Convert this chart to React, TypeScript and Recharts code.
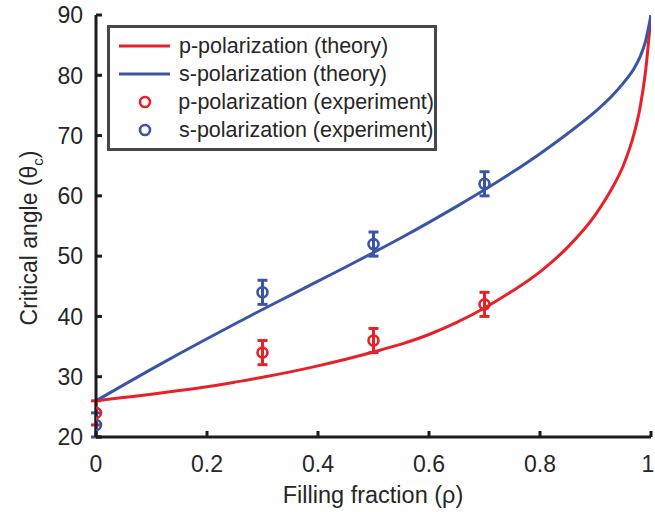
import {
  ComposedChart,
  ErrorBar,
  Legend,
  Line,
  Scatter,
  XAxis,
  YAxis,
} from 'recharts';

// Theory curves
const THEORY_X = [0, 0.05, 0.1, 0.15, 0.2, 0.25, 0.3, 0.35, 0.4, 0.45, 0.5, 0.55, 0.6, 0.65, 0.7, 0.75, 0.8, 0.85, 0.9, 0.93, 0.95, 0.97, 0.98, 0.99, 1];
const P_THEORY = [26, 26.55, 27.1, 27.7, 28.35, 29.1, 29.9, 30.8, 31.8, 32.9, 34.1, 35.4, 37.0, 39.0, 41.4, 44.2, 47.4, 51.5, 56.9, 61.3, 65.0, 70.5, 74.5, 80.5, 90];
const S_THEORY = [26, 28.65, 31.25, 33.8, 36.3, 38.75, 41.15, 43.5, 45.85, 48.2, 50.6, 53.05, 55.6, 58.25, 61.0, 63.9, 67.0, 70.35, 74.0, 76.6, 78.7, 81.2, 83.0, 85.6, 90];

// Experiment points
const EXP_X = [0, 0.3, 0.5, 0.7];
const P_EXP = [24, 34, 36, 42];
const S_EXP = [22, 44, 52, 62];
const EXP_ERR = [2, 2, 2, 2];

const X_TICKS = [0, 0.2, 0.4, 0.6, 0.8, 1];
const Y_TICKS = [20, 30, 40, 50, 60, 70, 80, 90];

const RED = '#e62129';
const BLUE = '#3a55a5';
const FRAME = '#1c1c1c';
const TEXT = '#262626';
const FONT = 'Arial, "Liberation Sans", sans-serif';

const pTheory = THEORY_X.map((x, i) => ({ x, y: P_THEORY[i] }));
const sTheory = THEORY_X.map((x, i) => ({ x, y: S_THEORY[i] }));
const pExp = EXP_X.map((x, i) => ({ x, y: P_EXP[i], err: EXP_ERR[i] }));
const sExp = EXP_X.map((x, i) => ({ x, y: S_EXP[i], err: EXP_ERR[i] }));

const LEGEND_ITEMS = [
  { label: 'p-polarization (theory)', color: RED, kind: 'line' },
  { label: 's-polarization (theory)', color: BLUE, kind: 'line' },
  { label: 'p-polarization (experiment)', color: RED, kind: 'circle' },
  { label: 's-polarization (experiment)', color: BLUE, kind: 'circle' },
];

const TICK_LEN = 6;

// Ticks point inward, labels sit outside the frame.
const BottomTick = ({ x, y, payload }: any) => (
  <g>
    <line x1={x} x2={x} y1={y} y2={y - TICK_LEN} stroke={FRAME} strokeWidth={3} />
    <text
      x={payload.value === 1 ? x - 3 : x}
      y={y + 35}
      textAnchor="middle"
      fill={TEXT}
      fontSize={23}
      fontFamily={FONT}
    >
      {String(payload.value)}
    </text>
  </g>
);

const TopTick = ({ x, y }: any) => (
  <line x1={x} x2={x} y1={y} y2={y + TICK_LEN} stroke={FRAME} strokeWidth={3} />
);

const LeftTick = ({ x, y, payload }: any) => (
  <g>
    <line x1={x} x2={x + TICK_LEN} y1={y} y2={y} stroke={FRAME} strokeWidth={3} />
    <text x={x - 13} y={y} dy="0.36em" textAnchor="end" fill={TEXT} fontSize={23} fontFamily={FONT}>
      {payload.value}
    </text>
  </g>
);

const RightTick = ({ x, y }: any) => (
  <line x1={x} x2={x - TICK_LEN} y1={y} y2={y} stroke={FRAME} strokeWidth={3} />
);

const YLabel = () => (
  <text
    transform="rotate(-90, 37, 238)"
    x={37}
    y={238}
    textAnchor="middle"
    fill={TEXT}
    fontSize={23}
    fontFamily={FONT}
  >
    Critical angle (θ
    <tspan fontSize={15} dy={6}>c</tspan>
    <tspan dy={-6}>)</tspan>
  </text>
);

const XLabel = () => (
  <text x={373} y={503} textAnchor="middle" fill={TEXT} fontSize={23.5} fontFamily={FONT}>
    Filling fraction (ρ)
  </text>
);

const OpenCircle = (color: string) => (props: any) => (
  <circle cx={props.cx} cy={props.cy} r={5} fill="none" stroke={color} strokeWidth={2.6} />
);

const LegendBox = () => (
  <div
    style={{
      border: '3px solid #474747',
      background: '#fff',
      padding: '4px 0 4px 0',
      fontFamily: FONT,
      fontSize: 21.5,
      color: TEXT,
      width: 324,
      boxSizing: 'content-box',
    }}
  >
    {LEGEND_ITEMS.map((item) => (
      <div key={item.label} style={{ display: 'flex', alignItems: 'center', height: 28 }}>
        <svg width={66} height={28}>
          {item.kind === 'line' ? (
            <line x1={9} x2={60} y1={14} y2={14} stroke={item.color} strokeWidth={3} />
          ) : (
            <circle cx={35} cy={14} r={5} fill="none" stroke={item.color} strokeWidth={2.6} />
          )}
        </svg>
        <span style={{ whiteSpace: 'nowrap', marginLeft: 3 }}>{item.label}</span>
      </div>
    ))}
  </div>
);

export default function App() {
  return (
    <div style={{ width: 655, height: 512, background: '#fff' }}>
      <style>{'body{margin:0}'}</style>
      <ComposedChart width={655} height={512} margin={{ top: 15, right: 4, bottom: 0, left: 36 }}>
        <XAxis
          dataKey="x"
          type="number"
          domain={[0, 1]}
          ticks={X_TICKS}
          height={75}
          tickSize={0}
          tickMargin={0}
          tick={<BottomTick />}
          tickLine={false}
          axisLine={{ stroke: FRAME, strokeWidth: 3 }}
          interval={0}
          allowDataOverflow
        />
        <XAxis
          xAxisId="top"
          orientation="top"
          dataKey="x"
          type="number"
          domain={[0, 1]}
          ticks={X_TICKS}
          height={0}
          tickSize={0}
          tickMargin={0}
          tick={<TopTick />}
          tickLine={false}
          axisLine={{ stroke: FRAME, strokeWidth: 3 }}
          interval={0}
        />
        <YAxis
          type="number"
          domain={[20, 90]}
          ticks={Y_TICKS}
          width={60}
          tickSize={0}
          tickMargin={0}
          tick={<LeftTick />}
          tickLine={false}
          axisLine={{ stroke: FRAME, strokeWidth: 3 }}
          interval={0}
          allowDataOverflow
        />
        <YAxis
          yAxisId="right"
          orientation="right"
          type="number"
          domain={[20, 90]}
          ticks={Y_TICKS}
          width={0}
          tickSize={0}
          tickMargin={0}
          tick={<RightTick />}
          tickLine={false}
          axisLine={{ stroke: FRAME, strokeWidth: 3 }}
          interval={0}
        />
        <Line
          data={pTheory}
          dataKey="y"
          type="monotone"
          stroke={RED}
          strokeWidth={3}
          dot={false}
          isAnimationActive={false}
        />
        <Line
          data={sTheory}
          dataKey="y"
          type="monotone"
          stroke={BLUE}
          strokeWidth={3}
          dot={false}
          isAnimationActive={false}
        />
        <Scatter data={pExp} dataKey="y" shape={OpenCircle(RED)} isAnimationActive={false}>
          <ErrorBar dataKey="err" direction="y" width={5} stroke={RED} strokeWidth={3} />
        </Scatter>
        <Scatter data={sExp} dataKey="y" shape={OpenCircle(BLUE)} isAnimationActive={false}>
          <ErrorBar dataKey="err" direction="y" width={5} stroke={BLUE} strokeWidth={3} />
        </Scatter>
        <Legend
          layout="vertical"
          align="center"
          verticalAlign="middle"
          content={<LegendBox />}
          wrapperStyle={{ top: 25, left: 107, width: 'auto' }}
        />
        <YLabel />
        <XLabel />
      </ComposedChart>
    </div>
  );
}
